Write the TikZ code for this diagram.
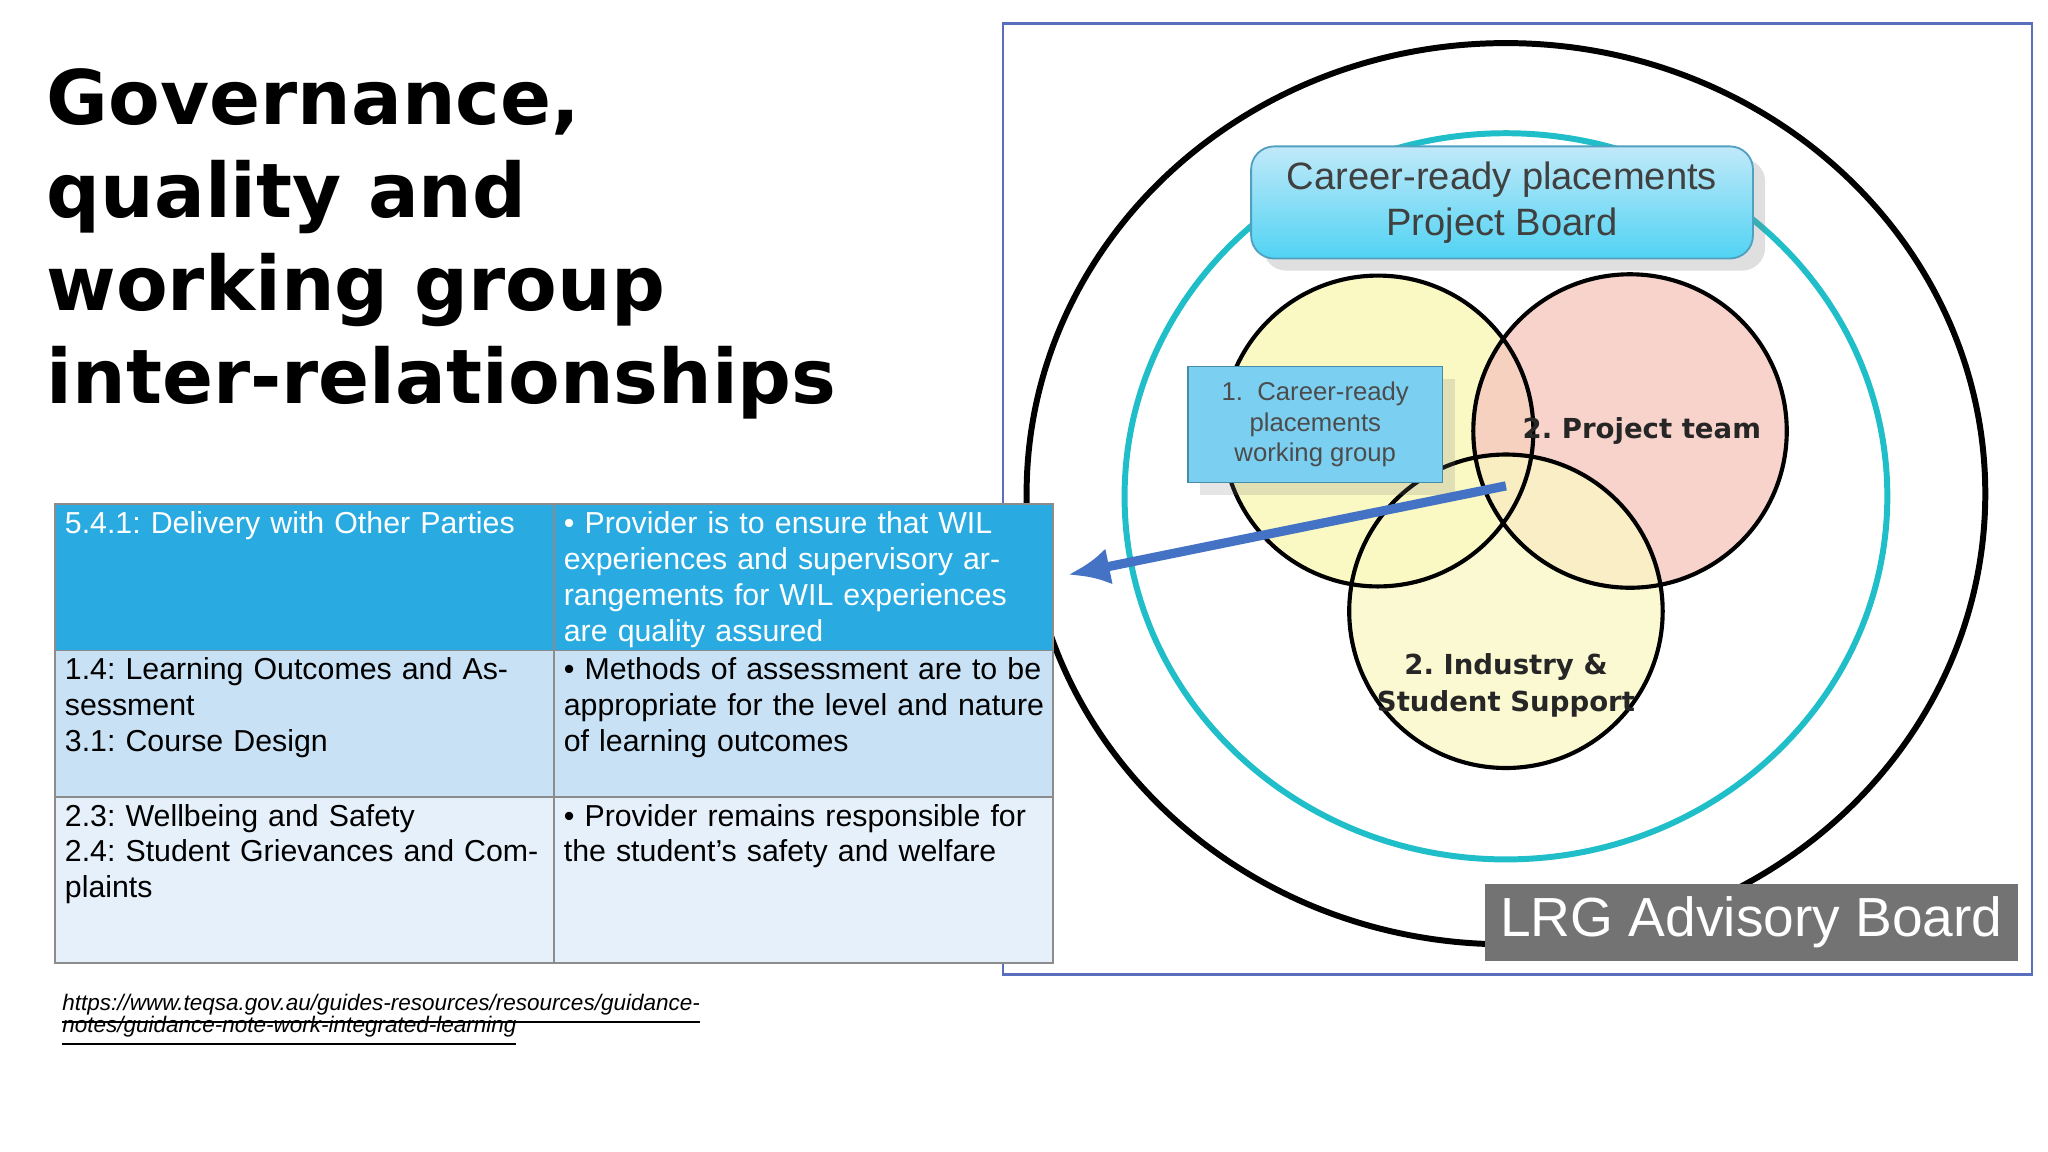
\documentclass[tikz,border=0pt]{standalone}
\usepackage{fontspec}
\setmainfont{Liberation Sans}
\newfontfamily\titlefont{DejaVu Sans}
\usetikzlibrary{shadows,arrows.meta}
\definecolor{teal1}{RGB}{32,190,200}
\definecolor{rowa}{RGB}{41,171,226}
\definecolor{rowb}{RGB}{200,225,245}
\definecolor{rowc}{RGB}{230,240,250}
\definecolor{frameb}{RGB}{90,110,190}
\definecolor{arrowb}{RGB}{68,114,196}
\definecolor{yel}{RGB}{250,248,195}
\definecolor{pnk}{RGB}{245,200,190}
\definecolor{boxb}{RGB}{100,200,240}
\frenchspacing
\begin{document}
\begin{tikzpicture}[x=0.01cm,y=-0.01cm,
  cell/.style={anchor=north west,text width=3.68cm,align=left,font=\fontsize{6.6}{7.8}\selectfont,inner sep=0pt},
  vlab/.style={font=\titlefont\bfseries\fontsize{6}{8}\selectfont,align=center,text=black!85}]
\useasboundingbox (0,0) rectangle (1568,882);
\fill[white] (0,0) rectangle (1568,882);
% title
\node[anchor=north west,inner sep=0pt,align=left,font=\titlefont\bfseries\fontsize{16.4}{20.2}\selectfont] (title) at (35,52)
 {Governance,\\quality and\\working group\\inter-relationships};
% right frame
\draw[frameb,line width=0.5pt] (768,18) rectangle (1556,746);
\draw[black,line width=1.3pt] (1153,378) ellipse [x radius=367,y radius=345];
\draw[teal1,line width=1.3pt] (1153,380) ellipse [x radius=292,y radius=278];
% venn
\fill[yel] (1055,330) circle (119);
\fill[pnk,fill opacity=0.8] (1248,330) circle (120);
\fill[yel,fill opacity=0.75] (1153,468) circle (120);
\draw[line width=0.9pt] (1055,330) circle (119) (1248,330) circle (120) (1153,468) circle (120);
\node[vlab] (pt) at (1257,330) {2. Project team};
\node[vlab] (is) at (1153,525) {2. Industry \&\\Student Support};
% project board box
\node[draw=boxb!80!black,line width=0.4pt,rounded corners=5pt,minimum width=3.84cm,minimum height=0.83cm,
  top color=boxb!40!white,bottom color=boxb!80!cyan,drop shadow={opacity=0.25},
  font=\fontsize{8.3}{10}\selectfont,text=black!75,align=center] (pb) at (1150,155)
  {Career-ready placements\\Project Board};
% working group box
\node[draw=boxb!70!black,line width=0.3pt,fill=boxb!85!white,minimum width=1.95cm,minimum height=0.82cm,
  font=\fontsize{5.6}{6.7}\selectfont,text=black!70,align=center,drop shadow={opacity=0.2}] (wg) at (1007,325)
  {1.\ \ Career-ready\\placements\\working group};
% LRG
\node[fill=black!55,minimum width=4.08cm,minimum height=0.59cm,text=white,font=\fontsize{12}{14}\selectfont,inner sep=0pt] (lrg) at (1341,706) {LRG Advisory Board};
% table
\fill[rowa] (42,386) rectangle (806,498);
\fill[rowb] (42,498) rectangle (806,610);
\fill[rowc] (42,610) rectangle (806,737);
\draw[black!45,line width=0.4pt] (42,386) rectangle (806,737) (424,386) -- (424,737) (42,498) -- (806,498) (42,610) -- (806,610);
\node[cell,text=white] (c11) at (49,391) {5.4.1: Delivery with Other Parties};
\node[cell,text=white] (c12) at (431,391) {• Provider is to ensure that WIL experiences and supervisory arrangements for WIL experiences are quality assured};
\node[cell] (c21) at (49,503) {1.4: Learning Outcomes and Assessment\\3.1: Course Design};
\node[cell] (c22) at (431,503) {• Methods of assessment are to be appropriate for the level and nature of learning outcomes};
\node[cell] (c31) at (49,615) {2.3: Wellbeing and Safety\\2.4: Student Grievances and Complaints};
\node[cell] (c32) at (431,615) {• Provider remains responsible for the student’s safety and welfare};
% arrow
\coordinate (as) at (1153,372);
\coordinate (ae) at (818,440);
\draw[arrowb,line width=2pt,-{Latex[length=9pt,width=8pt]}] (as) -- (ae);
% url
\node[anchor=north west,inner sep=0pt,align=left,font=\itshape\fontsize{4.9}{4.8}\selectfont] (url) at (47,773)
 {\smash{\underline{https://www.teqsa.gov.au/guides-resources/resources/guidance-}}\\\smash{\underline{notes/guidance-note-work-integrated-learning}}};
\end{tikzpicture}
\end{document}
